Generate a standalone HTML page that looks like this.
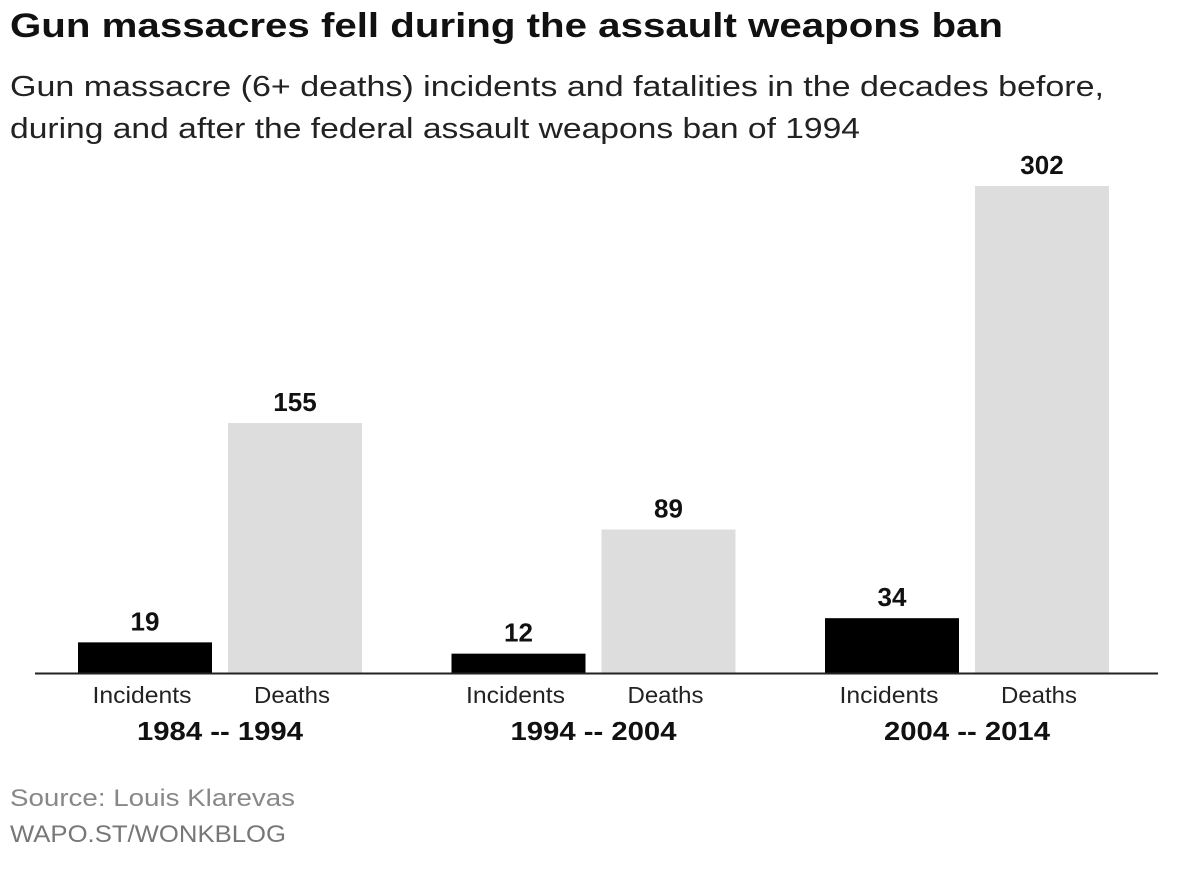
<!DOCTYPE html>
<html><head><meta charset="utf-8"><style>
body{margin:0;background:#fff;width:1200px;height:885px;overflow:hidden;font-family:"Liberation Sans",sans-serif;}
</style></head><body>
<svg width="1200" height="885" viewBox="0 0 1200 885" font-family="Liberation Sans, sans-serif">
<text x="10" y="37" font-size="34" font-weight="bold" fill="#111" textLength="993" lengthAdjust="spacingAndGlyphs">Gun massacres fell during the assault weapons ban</text>
<text x="10" y="96" font-size="29" fill="#222" textLength="1094" lengthAdjust="spacingAndGlyphs">Gun massacre (6+ deaths) incidents and fatalities in the decades before,</text>
<text x="10" y="138" font-size="29" fill="#222" textLength="850" lengthAdjust="spacingAndGlyphs">during and after the federal assault weapons ban of 1994</text>
<g id="plot"></g>
<line x1="35" y1="673.5" x2="1158" y2="673.5" stroke="#222" stroke-width="2"/>
<text x="10" y="806" font-size="24" fill="#888" textLength="285" lengthAdjust="spacingAndGlyphs">Source: Louis Klarevas</text>
<text x="10" y="842" font-size="24" fill="#777" textLength="276" lengthAdjust="spacingAndGlyphs">WAPO.ST/WONKBLOG</text>
</svg>
<script>
const periods = ["1984 -- 1994", "1994 -- 2004", "2004 -- 2014"];
const incidents = [19, 12, 34];
const deaths = [155, 89, 302];
const ns = "http://www.w3.org/2000/svg";
const plot = document.getElementById("plot");
const baseY = 673, pxPerUnit = 487 / 302;
const yScale = v => baseY - v * pxPerUnit;
const groupX = i => 220 + i * 373.5;
const barW = 134;
function mk(tag, attrs, txt) {
  const el = document.createElementNS(ns, tag);
  for (const k in attrs) el.setAttribute(k, attrs[k]);
  if (txt !== undefined) el.textContent = txt;
  plot.appendChild(el);
  return el;
}
periods.forEach((p, i) => {
  const cx = groupX(i);
  [["incidents", incidents[i], cx - 75, "#000", "Incidents", 99], ["deaths", deaths[i], cx + 75, "#dddddd", "Deaths", 76]].forEach(([key, v, bx, col, lab, lw]) => {
    const r = mk("rect", {x: bx - barW / 2, y: yScale(v), width: barW, height: baseY - yScale(v), fill: col});
    
    
    const t = mk("text", {x: bx, y: yScale(v) - 12, "text-anchor": "middle", "font-size": 26, "font-weight": "bold", fill: "#111"}, String(v));
    
    
    const c = mk("text", {x: bx - 3, y: 703, "text-anchor": "middle", "font-size": 23, fill: "#222", textLength: lw, lengthAdjust: "spacingAndGlyphs"}, lab);
    
    
  });
  const pl = mk("text", {x: cx, y: 740, "text-anchor": "middle", "font-size": 26, "font-weight": "bold", fill: "#111", textLength: 166, lengthAdjust: "spacingAndGlyphs"}, p);
  
  
});
</script>
</body></html>
